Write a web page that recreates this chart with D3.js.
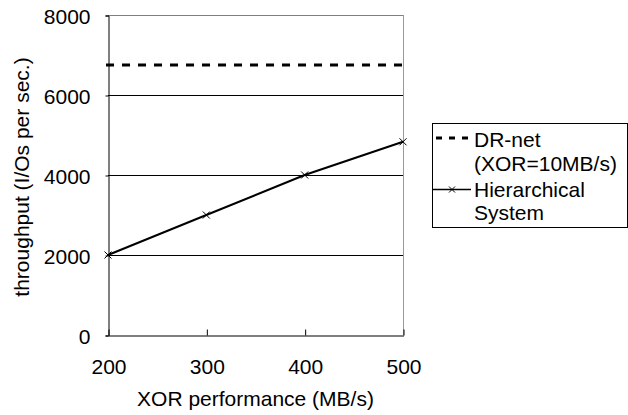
<!DOCTYPE html>
<html>
<head>
<meta charset="utf-8">
<script src="https://cdn.jsdelivr.net/npm/d3@7"></script>
<style>
  html, body { margin: 0; padding: 0; background: #fff; }
  svg { display: block; }
  text { font-family: "Liberation Sans", Arial, sans-serif; font-size: 21px; fill: #000; }
</style>
</head>
<body>
<svg id="chart" width="628" height="415"></svg>
<script>
// ---- data ----
const xValues = [200, 300, 400, 500];
const hierarchical = [2000, 3000, 4000, 4830];
const drNetValue = 6750;
const yTicks = [0, 2000, 4000, 6000, 8000];
const xTicks = [200, 300, 400, 500];
const seriesNames = ["DR-net", "(XOR=10MB/s)", "Hierarchical", "System"];
const xTitle = "XOR performance (MB/s)";
const yTitle = "throughput (I/Os per sec.)";

// ---- layout ----
const svg = d3.select("#chart");
const pL = 108, pR = 403, pT = 15, pB = 335;

const x = d3.scaleLinear().domain([200, 500]).range([pL, pR]);
const y = d3.scaleLinear().domain([0, 8000]).range([pB, pT]);

// gridlines (2000, 4000, 6000)
svg.append("g").selectAll("line")
  .data(yTicks.filter(d => d > 0 && d < 8000))
  .join("line")
  .attr("x1", pL).attr("x2", pR)
  .attr("y1", d => y(d) + 0.5).attr("y2", d => y(d) + 0.5)
  .attr("stroke", "#000").attr("stroke-width", 1);

// plot border top & right (gray)
svg.append("line").attr("x1", pL).attr("x2", pR + 0.5)
  .attr("y1", y(8000) + 0.5).attr("y2", y(8000) + 0.5)
  .attr("stroke", "#7f7f7f").attr("stroke-width", 1);
svg.append("line").attr("x1", pR + 0.5).attr("x2", pR + 0.5)
  .attr("y1", y(8000)).attr("y2", pB)
  .attr("stroke", "#9a9a9a").attr("stroke-width", 1);

// y axis
const yAxis = d3.axisLeft(y).tickValues(yTicks).tickSize(3).tickPadding(15).tickFormat(d3.format("d"));
const gy = svg.append("g").attr("transform", `translate(${pL + 0.5},0.5)`).call(yAxis);
gy.select(".domain").attr("stroke", "#000");
gy.selectAll(".tick line").attr("stroke", "#000");
gy.selectAll("text").attr("font-size", 21).attr("dy", "0.36em")
  .style("font-family", '"Liberation Sans", Arial, sans-serif');

// x axis (ticks pointing inward)
const xAxis = d3.axisBottom(x).tickValues(xTicks).tickSize(-6).tickPadding(0).tickSizeOuter(0).tickFormat(d3.format("d"));
const gx = svg.append("g").attr("transform", `translate(0.5,${pB + 0.5})`).call(xAxis);
gx.select(".domain").attr("stroke", "#000");
gx.selectAll(".tick line").attr("stroke", "#000");
gx.selectAll("text").attr("font-size", 21).attr("y", 38).attr("dy", 0)
  .style("font-family", '"Liberation Sans", Arial, sans-serif');

// DR-net dashed line
svg.append("line")
  .attr("x1", x(200) - 2).attr("x2", x(500) + 3)
  .attr("y1", y(drNetValue)).attr("y2", y(drNetValue))
  .attr("stroke", "#000").attr("stroke-width", 3)
  .attr("stroke-dasharray", "8,8");

// Hierarchical line
const pts = xValues.map((v, i) => [v, hierarchical[i]]);
svg.append("path")
  .datum(pts)
  .attr("fill", "none").attr("stroke", "#000").attr("stroke-width", 2)
  .attr("d", d3.line().x(d => x(d[0])).y(d => y(d[1])));

function cross(g, cx, cy, s) {
  g.append("path")
    .attr("d", `M${cx - s},${cy - s}L${cx + s},${cy + s}M${cx - s},${cy + s}L${cx + s},${cy - s}`)
    .attr("stroke", "#000").attr("stroke-width", 1).attr("fill", "none");
}
const mk = svg.append("g");
pts.forEach(d => cross(mk, x(d[0]), y(d[1]), 3.5));

// axis titles
svg.append("text")
  .attr("x", (pL + pR) / 2).attr("y", 406)
  .attr("text-anchor", "middle").text(xTitle);
svg.append("text")
  .attr("transform", `translate(29,${177}) rotate(-90)`)
  .attr("text-anchor", "middle").text(yTitle);

// legend
const lg = svg.append("g");
lg.append("rect").attr("x", 432.5).attr("y", 123.5).attr("width", 195).attr("height", 104)
  .attr("fill", "#fff").attr("stroke", "#000").attr("stroke-width", 1);
lg.append("line").attr("x1", 436).attr("x2", 472).attr("y1", 138).attr("y2", 138)
  .attr("stroke", "#000").attr("stroke-width", 3).attr("stroke-dasharray", "6,7");
lg.append("line").attr("x1", 433).attr("x2", 471).attr("y1", 189.5).attr("y2", 189.5)
  .attr("stroke", "#000").attr("stroke-width", 1.5);
cross(lg, 452, 189.5, 3);
const baselines = [147, 171, 197, 220];
lg.selectAll("text.lab").data(seriesNames).join("text")
  .attr("class", "lab")
  .attr("x", 474).attr("y", (d, i) => baselines[i])
  .text(d => d);
</script>
</body>
</html>
